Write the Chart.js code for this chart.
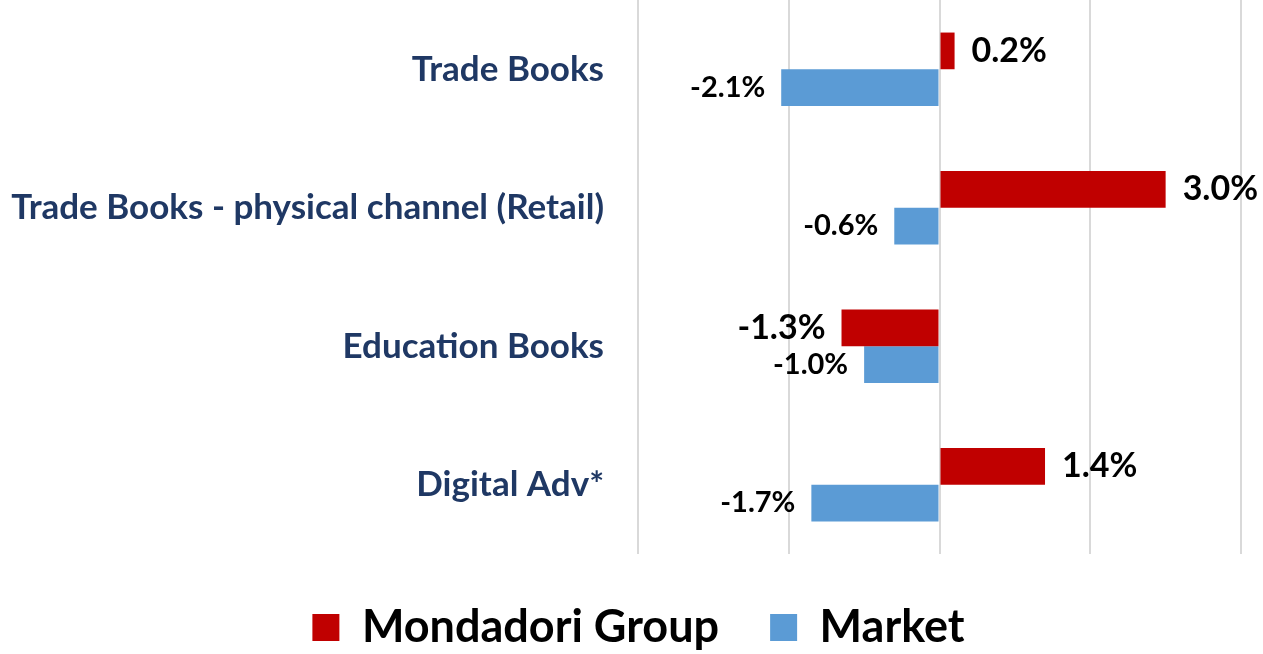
<!DOCTYPE html>
<html>
<head>
<meta charset="utf-8">
<script src="https://cdn.jsdelivr.net/npm/chart.js@4/dist/chart.umd.min.js"></script>
<style>
html,body{margin:0;padding:0;background:#fff;}
#wrap{width:1263px;height:654px;position:relative;}
</style>
</head>
<body>
<div id="wrap"><canvas id="c" width="1263" height="654"></canvas></div>
<script>
const categories = ["Trade Books", "Trade Books - physical channel (Retail)", "Education Books", "Digital Adv*"];
const mondadoriValues = [0.2, 3.0, -1.3, 1.4];
const marketValues = [-2.1, -0.6, -1.0, -1.7];
const seriesNames = ["Mondadori Group", "Market"];

const FONT = "Lato, 'Open Sans', sans-serif";

const labelPlugin = {
  id: 'barLabels',
  afterDatasetsDraw(chart) {
    const ctx = chart.ctx;
    chart.data.datasets.forEach((ds, di) => {
      const meta = chart.getDatasetMeta(di);
      const size = di === 0 ? 34 : 29;
      ctx.save();
      ctx.font = `bold ${size}px ${FONT}`;
      ctx.fillStyle = '#000';
      ctx.textBaseline = 'middle';
      meta.data.forEach((bar, i) => {
        const v = ds.data[i];
        const txt = v.toFixed(1) + '%';
        if (v >= 0) {
          ctx.textAlign = 'left';
          ctx.fillText(txt, bar.x + 17, bar.y);
        } else {
          ctx.textAlign = 'right';
          ctx.fillText(txt, bar.x - 16, bar.y);
        }
      });
      ctx.restore();
    });
  }
};

const legendShift = {
  id: 'legendShift',
  afterLayout(chart) {
    if (chart.legend) { chart.legend.left += 18; chart.legend.right += 18; }
  }
};

new Chart(document.getElementById('c'), {
  type: 'bar',
  data: {
    labels: categories,
    datasets: [
      { label: seriesNames[0], data: mondadoriValues, backgroundColor: '#C00000', categoryPercentage: 0.53, barPercentage: 1.0 },
      { label: seriesNames[1], data: marketValues, backgroundColor: '#5B9BD5', categoryPercentage: 0.53, barPercentage: 1.0 }
    ]
  },
  options: {
    indexAxis: 'y',
    responsive: false,
    animation: false,
    layout: { padding: { left: 0, right: 22, top: 0, bottom: -6 } },
    scales: {
      x: {
        min: -4, max: 4,
        ticks: { display: false, stepSize: 2 },
        grid: { color: '#d9d9d9', lineWidth: 2, drawTicks: false },
        border: { display: false }
      },
      y: {
        ticks: { color: '#1F3864', font: { family: FONT, size: 35, weight: 'bold' }, padding: 34 },
        grid: { display: false, drawTicks: false },
        border: { display: false },
        afterFit(scale) { scale.width = 638; scale.paddingTop = 0; scale.paddingBottom = 0; }
      }
    },
    plugins: {
      legend: {
        position: 'bottom',
        labels: {
          color: '#000',
          font: { family: FONT, size: 45, weight: 'bold' },
          boxWidth: 27, boxHeight: 27,
          padding: 51
        }
      },
      tooltip: { enabled: false }
    }
  },
  plugins: [labelPlugin, legendShift]
});
</script>
</body>
</html>
